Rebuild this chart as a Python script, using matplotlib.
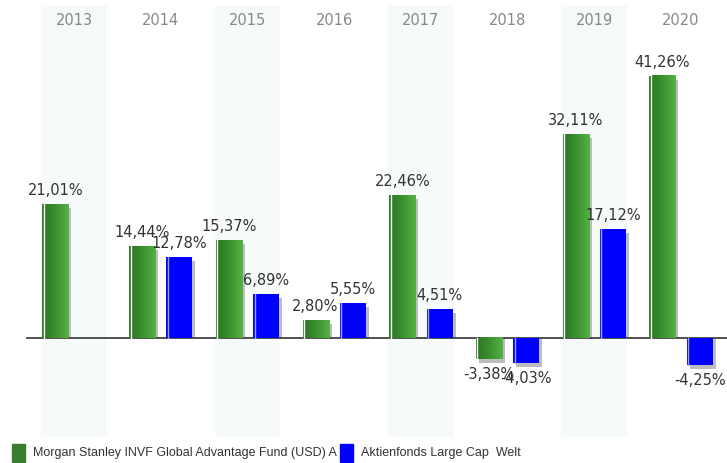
import numpy as np
import matplotlib.pyplot as plt
from matplotlib.colors import LinearSegmentedColormap
from matplotlib.patches import Rectangle

years = ["2013", "2014", "2015", "2016", "2017", "2018", "2019", "2020"]
fund = [21.01, 14.44, 15.37, 2.80, 22.46, -3.38, 32.11, 41.26]
category = [np.nan, 12.78, 6.89, 5.55, 4.51, -4.03, 17.12, -4.25]
fund_name = "Morgan Stanley INVF Global Advantage Fund (USD) A"
cat_name = "Aktienfonds Large Cap  Welt"

W, H = 727, 463
fig = plt.figure(figsize=(W / 100, H / 100), dpi=100)
ax = fig.add_axes([26 / W, (H - 437) / H, (W - 26) / W, 432 / H])

x = np.arange(len(years))
bw = 0.30
off = 0.215
ax.set_xlim(-0.554, 7.53)
ax.set_ylim(-15.6, 52.4)

# px -> data units
dx = (7.53 + 0.554) / (W - 26)
dy = (52.4 + 15.6) / 432

# alternating background bands
for i in x[::2]:
    ax.axvspan(i - 0.38, i + 0.38, color="#f6fafb", zorder=0, lw=0)

green = LinearSegmentedColormap.from_list("g", ["#2e7a24", "#3d9431", "#56b244"])
grad = np.linspace(0, 1, 64).reshape(1, -1)

def draw_bar(xc, val, kind):
    if np.isnan(val):
        return
    x0 = xc - bw / 2
    # shadow: right 3px, top 4px lower, base on the zero line
    ax.bar(xc + 3 * dx, val - 4 * dy, width=bw, color="#bdbdbd", lw=0, zorder=2)
    if kind == "g":
        ax.bar(xc, val, width=bw, color="#2e7a24", lw=0, zorder=3)
        ax.imshow(grad, cmap=green, aspect="auto", zorder=3.5,
                  extent=(x0 + 3 * dx, x0 + bw, min(0, val), max(0, val)))
        ax.plot([x0 + 1.5 * dx] * 2, [0, val], color="white", lw=1.0, zorder=4)
    else:
        ax.bar(xc, val, width=bw, color="#0000ff", lw=0, zorder=3)
        ax.plot([x0 + 1.5 * dx] * 2, [0, val], color="#9aa6ff", lw=1.0, zorder=4)
    txt = f"{val:.2f}%".replace(".", ",")
    if val >= 0:
        ax.text(xc, val + 6 * dy, txt, ha="center", va="bottom", fontsize=10.5,
                color="#333333", zorder=6)
    else:
        ax.text(xc, val - 8 * dy, txt, ha="center", va="top", fontsize=10.5,
                color="#333333", zorder=6)

for i in x:
    draw_bar(i - off, fund[i], "g")
    draw_bar(i + off, category[i], "b")

ax.axhline(0, color="#333333", lw=1.2, zorder=2.5)

for i, y in enumerate(years):
    ax.text(i, 0.965, y, transform=ax.get_xaxis_transform(), ha="center", va="center",
            fontsize=10.5, color="#888888")

ax.set_xlim(-0.554, 7.53)
ax.set_ylim(-15.6, 52.4)
ax.axis("off")

# legend
fig.patches.append(Rectangle((12 / W, (H - 462) / H), 13 / W, 18 / H, color="#3a7d2c",
                             transform=fig.transFigure))
fig.text(33 / W, (H - 453) / H, fund_name, fontsize=9, family="Liberation Sans",
         color="#333333", va="center")
fig.patches.append(Rectangle((340 / W, (H - 462) / H), 13 / W, 18 / H, color="#0000ff",
                             transform=fig.transFigure))
fig.text(361 / W, (H - 453) / H, cat_name, fontsize=9, family="Liberation Sans",
         color="#333333", va="center")

fig.savefig("out.png", dpi=100)
